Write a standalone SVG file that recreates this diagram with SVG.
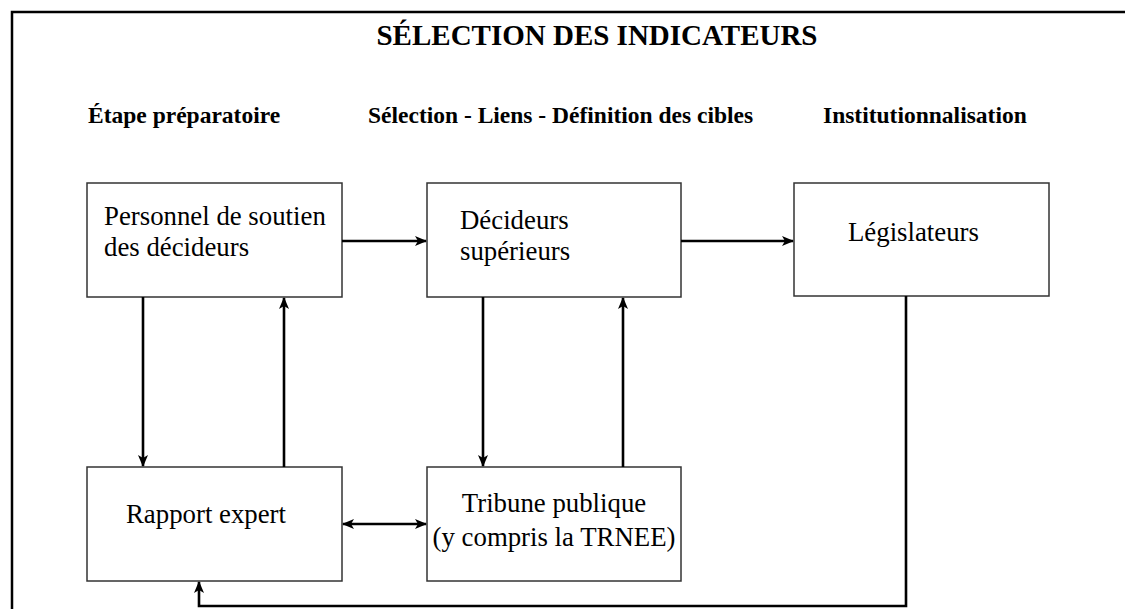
<svg xmlns="http://www.w3.org/2000/svg" width="1125" height="609" viewBox="0 0 1125 609">
<style>
.box{fill:#fff;stroke:#333;stroke-width:1.5}
.t{font-family:"Liberation Serif","Times New Roman",serif;font-size:26.8px;fill:#000}
.h{font-family:"Liberation Serif","Times New Roman",serif;font-size:23.5px;font-weight:bold;fill:#000}
.ttl{font-family:"Liberation Serif","Times New Roman",serif;font-size:29px;font-weight:bold;fill:#000}
.c{fill:none;stroke:#000;stroke-width:2.6}
</style>
<defs>
<marker id="ah" viewBox="0 0 12 10" refX="11" refY="5" markerWidth="12" markerHeight="10" markerUnits="userSpaceOnUse" orient="auto-start-reverse">
<path d="M0,0 L12,5 L0,10 L3,5 z" fill="#000"/>
</marker>
</defs>
<rect width="1125" height="609" fill="#fff"/>
<path d="M12,609 V12 H1125" fill="none" stroke="#000" stroke-width="2.5"/>
<text class="ttl" x="597" y="45" text-anchor="middle">SÉLECTION DES INDICATEURS</text>
<text class="h" x="88" y="123">Étape préparatoire</text>
<text class="h" x="368" y="123">Sélection - Liens - Définition des cibles</text>
<text class="h" x="823" y="123">Institutionnalisation</text>
<g id="personnel">
<rect class="box" x="87" y="183" width="255" height="114"/>
<text class="t" x="104" y="225">Personnel de soutien</text>
<text class="t" x="104" y="256">des décideurs</text>
</g>
<g id="decideurs">
<rect class="box" x="427" y="183" width="254" height="114"/>
<text class="t" x="460" y="229">Décideurs</text>
<text class="t" x="460" y="260">supérieurs</text>
</g>
<g id="legislateurs">
<rect class="box" x="794" y="183" width="255" height="113"/>
<text class="t" x="848" y="241">Législateurs</text>
</g>
<g id="rapport">
<rect class="box" x="87" y="467" width="255" height="114"/>
<text class="t" x="126" y="523">Rapport expert</text>
</g>
<g id="tribune">
<rect class="box" x="427" y="467" width="254" height="114"/>
<text class="t" x="554" y="512" text-anchor="middle">Tribune publique</text>
<text class="t" x="554" y="546" text-anchor="middle">(y compris la TRNEE)</text>
</g>
<g id="connectors">
<line class="c" x1="342" y1="241" x2="426" y2="241" marker-end="url(#ah)"/>
<line class="c" x1="681" y1="241" x2="793" y2="241" marker-end="url(#ah)"/>
<line class="c" x1="143" y1="297" x2="143" y2="466" marker-end="url(#ah)"/>
<line class="c" x1="284" y1="467" x2="284" y2="298" marker-end="url(#ah)"/>
<line class="c" x1="483" y1="297" x2="483" y2="466" marker-end="url(#ah)"/>
<line class="c" x1="623" y1="467" x2="623" y2="298" marker-end="url(#ah)"/>
<line class="c" x1="343" y1="524" x2="426" y2="524" marker-start="url(#ah)" marker-end="url(#ah)"/>
<path class="c" d="M906,296 V606 H199 V582" marker-end="url(#ah)"/>
</g>
</svg>
